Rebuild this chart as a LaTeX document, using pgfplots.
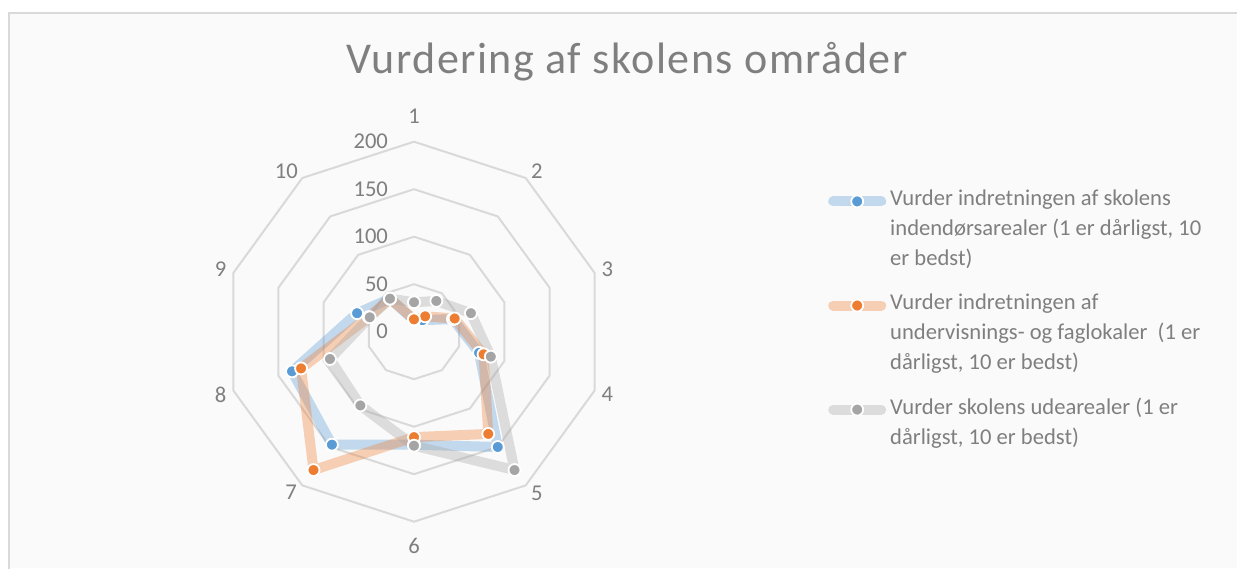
\documentclass[border=0pt]{standalone}
\usepackage{fontspec}
\setmainfont{Carlito}
\usepackage{pgfplots}
\pgfplotsset{compat=1.18}
\usepgfplotslibrary{polar}

\definecolor{txt}{HTML}{7F7F7F}
\definecolor{ringc}{HTML}{D9D9D9}
\definecolor{sblue}{HTML}{5B9BD5}
\definecolor{sorange}{HTML}{ED7D31}
\definecolor{sgray}{HTML}{A5A5A5}

% angles: spoke k at 90-36(k-1) degrees, clockwise from the top
\pgfplotstableread{
ang  blue orange gray
90   12   13     31
54   15   20     40
18   43   45     63
342  72   77     85
306  150  133    180
270  119  111    120
234  147  180    96
198  135  125    93
162  63   50     49
126  43   43     43
90   12   13     31
}\radar

\begin{document}
\begin{tikzpicture}
\path[use as bounding box] (0,0) rectangle (618.5pt,284pt);
\fill[white] (0,0) rectangle (618.5pt,284pt);
\fill[gray!4] (4.5pt,0) rectangle (618.5pt,277.5pt);
\draw[ringc, line width=0.8pt] (4.5pt,-5pt) -- (4.5pt,277.5pt) -- (625pt,277.5pt);
\node[txt, font=\fontsize{22}{26}\selectfont\addfontfeature{LetterSpace=3.4}] at (313.5pt,253pt) {Vurdering af skolens områder};

\begin{polaraxis}[
  at={(207pt,118.15pt)}, anchor=center,
  scale only axis, width=190pt, height=190pt,
  xmin=0, xmax=360, ymin=0, ymax=200,
  hide axis, clip=false,
  xtick=\empty, ytick=\empty,
  every axis plot/.append style={line join=round, line cap=round},
  legend style={
    at={(axis description cs:1.589,0.886)}, anchor=north west,
    draw=none, fill=none, inner sep=0pt,
    font=\fontsize{11.3}{15}\selectfont, text=txt,
    cells={anchor=north west, align=left},
    row sep=8.5pt,
    /tikz/every even column/.append style={column sep=3pt},
  },
  legend image code/.code={
    \draw[mark repeat=2, mark phase=2, #1] plot coordinates {(0pt,-8pt) (12pt,-8pt) (24pt,-8pt)};
  },
  series/.style={line width=5pt, draw=#1, draw opacity=0.35,
    mark=*, mark size=3pt,
    mark options={fill=#1, draw=white, line width=0.9pt, draw opacity=1, fill opacity=1}},
]
% decagon rings
\foreach \r in {50,100,150,200} {
  \addplot[ringc, line width=1pt, forget plot, mark=none] coordinates {
    (90,\r) (54,\r) (18,\r) (342,\r) (306,\r) (270,\r) (234,\r) (198,\r) (162,\r) (126,\r) (90,\r)};
}

\addplot[series=sblue] table[x=ang, y=blue] {\radar};
\addlegendentry{Vurder indretningen af skolens\\indendørsarealer (1 er dårligst, 10\\er bedst)}
\addplot[series=sorange] table[x=ang, y=orange] {\radar};
\addlegendentry{Vurder indretningen af\\undervisnings- og faglokaler\ \ (1 er\\dårligst, 10 er bedst)}
\addplot[series=sgray] table[x=ang, y=gray] {\radar};
\addlegendentry{Vurder skolens udearealer (1 er\\dårligst, 10 er bedst)}

% category labels
\begin{scope}[every node/.style={txt, font=\fontsize{11.3}{13}\selectfont}]
\node at (axis cs:90,227) {1};
\node at (axis cs:52.6,213) {2};
\node at (axis cs:18,214) {3};
\node at (axis cs:342,214) {4};
\node at (axis cs:307.3,213.5) {5};
\node at (axis cs:270,226) {6};
\node at (axis cs:232.5,212.6) {7};
\node at (axis cs:198,214) {8};
\node at (axis cs:162,214) {9};
\node at (axis cs:128.5,216) {10};
% value labels
\node[anchor=east, xshift=-9.5pt] at (axis cs:90,0) {0};
\node[anchor=east, xshift=-9.5pt] at (axis cs:90,50) {50};
\node[anchor=east, xshift=-9.5pt] at (axis cs:90,100) {100};
\node[anchor=east, xshift=-9.5pt] at (axis cs:90,150) {150};
\node[anchor=east, xshift=-9.5pt] at (axis cs:90,200) {200};
\end{scope}
\end{polaraxis}
\end{tikzpicture}
\end{document}
